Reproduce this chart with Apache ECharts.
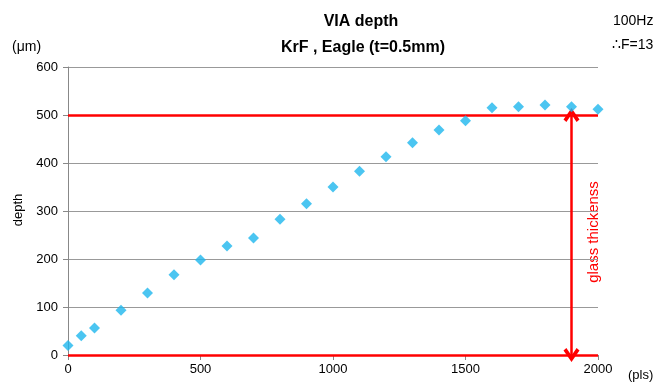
<!DOCTYPE html>
<html><head><meta charset="utf-8">
<script src="https://cdn.jsdelivr.net/npm/echarts@6/dist/echarts.min.js"></script>
<style>html,body{margin:0;padding:0;background:#fff}#c{width:657px;height:385px}</style>
</head><body><div id="c"></div>
<script>
const pulses = [0, 50, 100, 200, 300, 400, 500, 600, 700, 800, 900, 1000, 1100, 1200, 1300, 1400, 1500, 1600, 1700, 1800, 1900, 2000];
const depth = [20, 40, 56, 93, 129, 167, 198, 227, 244, 283, 315, 350, 383, 413, 442, 469, 488, 515, 517, 521, 517, 512];
const glassThickness = 500;
const arrowAt = 1900;
const font = 'Liberation Sans, Arial, sans-serif';
const chevron = 'path://M5,0 L10,7 L8.2,8.5 L5,4 L1.8,8.5 L0,7 Z';
const chart = echarts.init(document.getElementById('c'));
chart.setOption({
  animation: false,
  grid: {left: 68, right: 59, top: 67, bottom: 30},
  title: [
    {text: 'VIA depth', left: 356, top: 9, textAlign: 'center', textStyle: {fontFamily: font, fontSize: 16, fontWeight: 'bold', color: '#000'}},
    {text: 'KrF , Eagle (t=0.5mm)', left: 358, top: 35, textAlign: 'center', textStyle: {fontFamily: font, fontSize: 16, fontWeight: 'bold', color: '#000'}},
    {text: '100Hz', left: 608, top: 9, textStyle: {fontFamily: font, fontSize: 14, fontWeight: 'normal', color: '#000'}},
    {text: '∴F=13', left: 607, top: 33, textStyle: {fontFamily: font, fontSize: 14, fontWeight: 'normal', color: '#000'}}
  ],
  graphic: [
    {type: 'text', left: 12, top: 40, style: {text: '(μm)', font: '14px ' + font, fill: '#000'}},
    {type: 'text', left: 628, top: 369, style: {text: '(pls)', font: '13px ' + font, fill: '#000'}},
    {type: 'text', x: 18, y: 210, rotation: Math.PI / 2, style: {text: 'depth', font: '13px ' + font, fill: '#000', align: 'center', verticalAlign: 'middle'}},
    {type: 'text', x: 594, y: 232, rotation: Math.PI / 2, style: {text: 'glass thickenss', font: '15px ' + font, fill: '#ff0000', align: 'center', verticalAlign: 'middle'}}
  ],
  xAxis: {
    type: 'value', min: 0, max: 2000, interval: 500,
    axisLine: {show: true, lineStyle: {color: '#888'}},
    axisTick: {show: true, inside: false, length: 5, lineStyle: {color: '#888'}},
    splitLine: {show: false},
    axisLabel: {fontFamily: font, fontSize: 13, color: '#000', margin: 8, formatter: v => String(v)}
  },
  yAxis: {
    type: 'value', min: 0, max: 600, interval: 100,
    axisLine: {show: true, lineStyle: {color: '#888'}},
    axisTick: {show: true, length: 5, lineStyle: {color: '#888'}},
    splitLine: {show: true, lineStyle: {color: '#999', width: 1}},
    axisLabel: {fontFamily: font, fontSize: 13, color: '#000', margin: 10, formatter: v => String(v)}
  },
  series: [
    {
      type: 'scatter',
      data: pulses.map((p, i) => [p, depth[i]]),
      symbol: 'diamond', symbolSize: [11, 11],
      itemStyle: {color: '#1eb7ee'},
      z: 5,
      markLine: {
        silent: true, animation: false,
        label: {show: false},
        lineStyle: {color: '#ff0000', width: 2.5, type: 'solid'},
        symbol: ['none', 'none'],
        data: [
          [{coord: [0, glassThickness]}, {coord: [2000, glassThickness]}],
          [{coord: [0, 0]}, {coord: [2000, 0]}],
          [{coord: [arrowAt, glassThickness], symbol: chevron, symbolSize: [16, 14]},
           {coord: [arrowAt, 0], symbol: chevron, symbolSize: [16, 14]}]
        ]
      }
    }
  ]
});
</script></body></html>
